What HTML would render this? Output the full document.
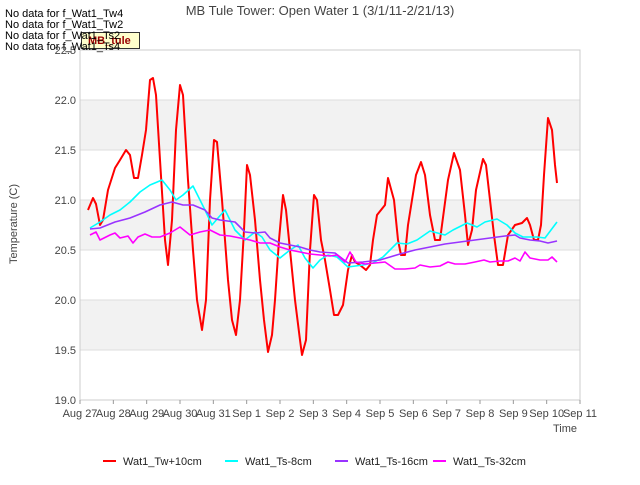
<!DOCTYPE html>
<html><head><meta charset="utf-8"><style>
body{margin:0;background:#fff;font-family:"Liberation Sans",sans-serif;}
svg text{font-family:"Liberation Sans",sans-serif;}
</style></head><body>
<svg id="c" width="640" height="480" xmlns="http://www.w3.org/2000/svg"></svg>
<script>
const xTickLabels=["Aug 27","Aug 28","Aug 29","Aug 30","Aug 31","Sep 1","Sep 2","Sep 3","Sep 4","Sep 5","Sep 6","Sep 7","Sep 8","Sep 9","Sep 10","Sep 11"];
const yTicks=[19.0,19.5,20.0,20.5,21.0,21.5,22.0,22.5];
const seriesNames=["Wat1_Tw+10cm","Wat1_Ts-8cm","Wat1_Ts-16cm","Wat1_Ts-32cm"];
const seriesColors=["#ff0000","#00ffff","#9933ff","#ff00ff"];
const twDays=[0.24,0.39,0.48,0.60,0.69,0.84,1.05,1.20,1.38,1.50,1.62,1.74,1.86,1.98,2.10,2.19,2.28,2.40,2.55,2.64,2.76,2.88,3.00,3.09,3.24,3.39,3.51,3.66,3.78,3.90,4.02,4.11,4.26,4.44,4.56,4.68,4.80,4.92,5.01,5.10,5.25,5.40,5.52,5.64,5.76,5.85,5.97,6.09,6.18,6.30,6.45,6.60,6.66,6.78,6.90,7.02,7.11,7.23,7.35,7.50,7.62,7.74,7.89,8.04,8.16,8.25,8.40,8.58,8.70,8.79,8.91,9.03,9.15,9.24,9.42,9.54,9.63,9.75,9.84,9.96,10.08,10.23,10.35,10.50,10.65,10.80,10.92,11.04,11.22,11.40,11.55,11.64,11.76,11.88,12.09,12.18,12.30,12.42,12.54,12.69,12.84,13.05,13.26,13.41,13.50,13.62,13.74,13.83,13.92,14.04,14.16,14.25,14.31];
const twVals=[20.90,21.02,20.96,20.75,20.80,21.10,21.32,21.40,21.50,21.45,21.22,21.22,21.45,21.70,22.20,22.22,22.05,21.40,20.60,20.35,20.80,21.70,22.15,22.05,21.20,20.50,20.00,19.70,20.00,21.00,21.60,21.58,21.00,20.20,19.80,19.65,20.00,20.70,21.35,21.25,20.80,20.20,19.80,19.48,19.65,20.00,20.60,21.05,20.90,20.50,20.00,19.60,19.45,19.60,20.50,21.05,21.00,20.60,20.40,20.10,19.85,19.85,19.95,20.30,20.45,20.38,20.35,20.30,20.35,20.60,20.85,20.90,20.95,21.22,21.00,20.60,20.45,20.45,20.75,21.00,21.25,21.38,21.25,20.85,20.60,20.60,20.90,21.20,21.47,21.30,20.85,20.55,20.70,21.10,21.41,21.35,21.00,20.65,20.35,20.35,20.65,20.75,20.77,20.82,20.75,20.60,20.60,20.75,21.25,21.82,21.70,21.35,21.17];
const ts8Days=[0.30,0.60,0.90,1.20,1.50,1.80,2.10,2.46,2.70,2.88,3.09,3.39,3.60,3.75,3.96,4.14,4.35,4.65,4.95,5.25,5.46,5.70,6.00,6.30,6.54,6.75,6.99,7.20,7.44,7.71,8.04,8.49,8.79,9.09,9.51,9.81,10.11,10.50,10.95,11.19,11.61,11.91,12.15,12.51,12.81,13.05,13.29,13.71,13.95,14.31];
const ts8Vals=[20.72,20.78,20.85,20.90,20.98,21.08,21.15,21.20,21.10,21.00,21.05,21.14,21.00,20.90,20.75,20.82,20.90,20.70,20.60,20.68,20.63,20.50,20.42,20.50,20.55,20.42,20.32,20.40,20.45,20.43,20.33,20.35,20.37,20.43,20.57,20.56,20.60,20.69,20.65,20.70,20.77,20.73,20.78,20.81,20.75,20.67,20.63,20.63,20.62,20.78];
const ts16Days=[0.30,0.60,1.05,1.50,1.95,2.40,2.76,3.09,3.39,3.75,3.96,4.20,4.65,4.95,5.25,5.55,5.70,6.00,6.30,6.60,6.90,7.20,7.65,8.04,8.49,9.00,9.60,10.05,10.50,10.95,11.40,11.85,12.30,12.75,13.05,13.20,13.50,13.80,14.04,14.31];
const ts16Vals=[20.71,20.72,20.78,20.82,20.88,20.95,20.98,20.95,20.95,20.90,20.82,20.80,20.78,20.68,20.67,20.68,20.62,20.57,20.55,20.53,20.50,20.48,20.47,20.37,20.38,20.40,20.46,20.50,20.53,20.56,20.58,20.60,20.62,20.64,20.65,20.62,20.60,20.59,20.57,20.59];
const ts32Days=[0.30,0.48,0.60,0.90,1.05,1.20,1.44,1.59,1.74,1.95,2.16,2.40,2.70,3.00,3.30,3.60,3.90,4.20,4.50,4.80,5.10,5.40,5.70,6.00,6.30,6.60,6.90,7.20,7.50,7.71,7.95,8.10,8.28,8.55,8.85,9.15,9.45,9.75,10.05,10.20,10.50,10.80,11.04,11.25,11.55,11.85,12.12,12.30,12.60,12.84,13.05,13.20,13.35,13.50,13.80,14.04,14.16,14.31];
const ts32Vals=[20.65,20.68,20.60,20.65,20.67,20.62,20.64,20.57,20.63,20.66,20.63,20.63,20.67,20.73,20.65,20.68,20.70,20.65,20.64,20.62,20.60,20.57,20.57,20.53,20.50,20.48,20.46,20.45,20.44,20.45,20.38,20.48,20.38,20.36,20.37,20.38,20.31,20.31,20.32,20.35,20.33,20.34,20.38,20.36,20.36,20.38,20.40,20.38,20.39,20.39,20.42,20.39,20.48,20.42,20.40,20.40,20.43,20.38];

const svg=document.getElementById('c');
const NS='http://www.w3.org/2000/svg';
const L=80,R=580,T=50,B=400,yMin=19,yMax=22.5,xMax=15;
function xs(d){return L+d/xMax*(R-L);}
function ys(v){return B-(v-yMin)/(yMax-yMin)*(B-T);}
function mk(tag,attrs,parent){const e=document.createElementNS(NS,tag);for(const k in attrs)e.setAttribute(k,attrs[k]);(parent||svg).appendChild(e);return e;}

for(let i=0;i<yTicks.length-1;i++){
  if(i%2===1){
    const b=mk('rect',{x:L,y:ys(yTicks[i+1]),width:R-L,height:ys(yTicks[i])-ys(yTicks[i+1]),fill:'#f2f2f2'});
    
    
  }
}
yTicks.forEach(v=>{
  const g=mk('line',{x1:L,x2:R,y1:ys(v),y2:ys(v),stroke:'#dddddd','stroke-width':1});
  
  
  const t=mk('text',{x:L-4,y:ys(v)+4,'text-anchor':'end','font-size':11,fill:'#444'});
  t.textContent=v.toFixed(1);
  
  
});
const fr=mk('rect',{x:L,y:T,width:R-L,height:B-T,fill:'none',stroke:'#cccccc'});


xTickLabels.forEach((lab,i)=>{
  const tk=mk('line',{x1:xs(i),x2:xs(i),y1:B,y2:B+4,stroke:'#999'});
  
  
  const t=mk('text',{x:xs(i),y:B+17,'text-anchor':'middle','font-size':11,fill:'#444'});
  t.textContent=lab;
  
  
});
const allDays=[twDays,ts8Days,ts16Days,ts32Days];
const allVals=[twVals,ts8Vals,ts16Vals,ts32Vals];
for(let s=0;s<4;s++){
  const pts=allDays[s].map((d,i)=>xs(d).toFixed(1)+','+ys(allVals[s][i]).toFixed(1)).join(' ');
  const p=mk('polyline',{points:pts,fill:'none',stroke:seriesColors[s],'stroke-width':s===0?2:1.6,'stroke-linejoin':'round'});
  
  
}
const legX=[103,225,335,433];
for(let s=0;s<4;s++){
  const g=mk('g',{});
  
  
  mk('line',{x1:legX[s],x2:legX[s]+13,y1:461,y2:461,stroke:seriesColors[s],'stroke-width':2},g);
  const t=mk('text',{x:legX[s]+20,y:465,'font-size':11,fill:'#222'},g);
  t.textContent=seriesNames[s];
}
</script>
<div style="position:absolute;left:0;top:0;width:640px;height:480px;pointer-events:none;">
<div style="position:absolute;left:0;width:640px;top:3px;text-align:center;font-size:13px;color:#444;">MB Tule Tower: Open Water 1 (3/1/11-2/21/13)</div>
<div style="position:absolute;left:-36px;top:218px;width:100px;text-align:center;font-size:11px;color:#444;transform:rotate(-90deg);">Temperature (C)</div>
<div style="position:absolute;left:553px;top:423px;font-size:11px;color:#444;">Time</div>
<div style="position:absolute;left:81px;top:32px;width:59px;height:17px;background:#ffffcc;border:1px solid #333;box-sizing:border-box;font-size:11px;font-weight:bold;color:#990000;padding-left:6px;line-height:17px;">MB_tule</div>
<div style="position:absolute;left:5px;top:9px;font-size:11px;line-height:11px;color:#000;">No data for f_Wat1_Tw4<br>No data for f_Wat1_Tw2<br>No data for f_Wat1_Ts2<br>No data for f_Wat1_Ts4</div>
</div>
</body></html>
